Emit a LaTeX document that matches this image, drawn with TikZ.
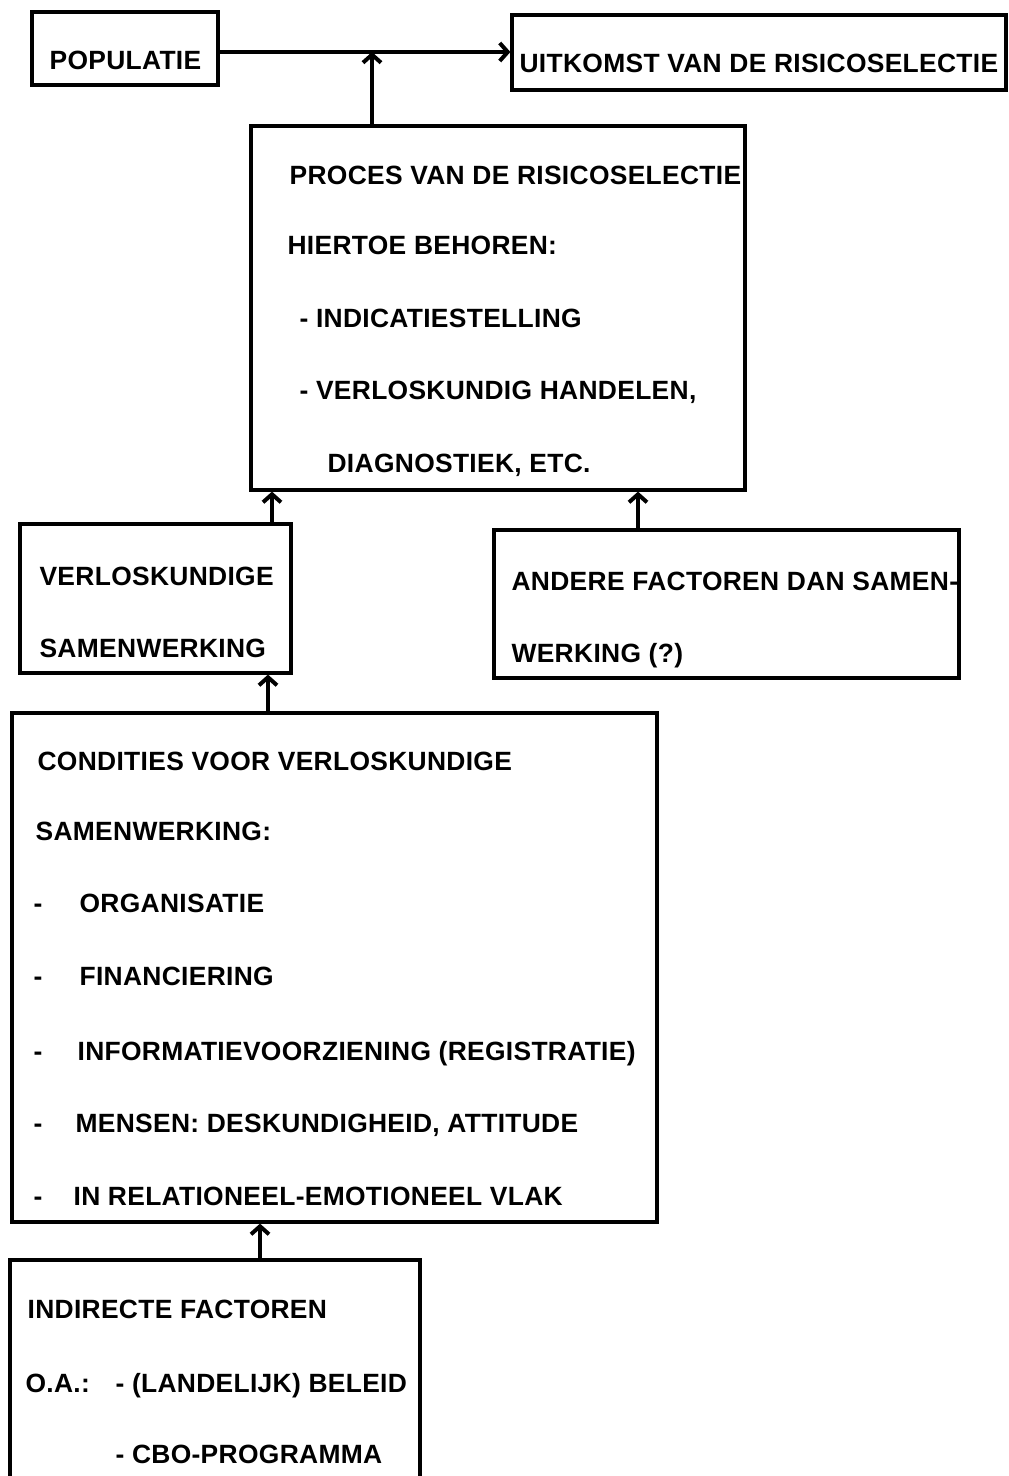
\documentclass[tikz,border=0pt]{standalone}
\usepackage{fontspec}
\setmainfont[LetterSpace=1.2]{Liberation Sans}
\usetikzlibrary{fit,arrows.meta}
\tikzset{
  box/.style={draw, line width=1.6pt, inner sep=0pt},
  lbl/.style={anchor=base west, inner sep=0pt, font=\bfseries\fontsize{13.2}{16}\selectfont},
}
\begin{document}
\begin{tikzpicture}[x=0.5pt, y=-0.5pt, line width=1.6pt,
    >={Straight Barb[length=4pt,width=9pt,line width=2pt]}]
  \useasboundingbox (0,0) rectangle (1008,1476);

  % boxes
  \node[box, fit={(32,12) (218,85)}] (pop) {};
  \node[box, fit={(512,15) (1006,90)}] (uit) {};
  \node[box, fit={(251,126) (745,490)}] (proc) {};
  \node[box, fit={(20,524) (291,673)}] (verl) {};
  \node[box, fit={(494,530) (959,678)}] (andere) {};
  \node[box, fit={(12,713) (657,1222)}] (cond) {};
  \node[box, fit={(10,1260) (420,1520)}] (indir) {};

  % texts
  \node[lbl] (t1) at (48,70) {POPULATIE};
  \node[lbl] (t2) at (518,73) {UITKOMST VAN DE RISICOSELECTIE};

  \node[lbl] (p1) at (288,185) {PROCES VAN DE RISICOSELECTIE};
  \node[lbl] (p2) at (286,255) {HIERTOE BEHOREN:};
  \node[lbl] (p3) at (298,328) {- INDICATIESTELLING};
  \node[lbl] (p4) at (298,400) {- VERLOSKUNDIG HANDELEN,};
  \node[lbl] (p5) at (326,472) {DIAGNOSTIEK, ETC.};

  \node[lbl] (v1) at (38,585) {VERLOSKUNDIGE};
  \node[lbl] (v2) at (38,657) {SAMENWERKING};

  \node[lbl] (a1) at (510,590) {ANDERE FACTOREN DAN SAMEN-};
  \node[lbl] (a2) at (510,662) {WERKING (?)};

  \node[lbl] (c1) at (36,770) {CONDITIES VOOR VERLOSKUNDIGE};
  \node[lbl] (c2) at (34,840) {SAMENWERKING:};
  \node[lbl] (d1) at (32,912) {-};
  \node[lbl] (c3) at (78,912) {ORGANISATIE};
  \node[lbl] (d2) at (32,985) {-};
  \node[lbl] (c4) at (78,985) {FINANCIERING};
  \node[lbl] (d3) at (32,1060) {-};
  \node[lbl] (c5) at (76,1060) {INFORMATIEVOORZIENING (REGISTRATIE)};
  \node[lbl] (d4) at (32,1132) {-};
  \node[lbl] (c6) at (74,1132) {MENSEN: DESKUNDIGHEID, ATTITUDE};
  \node[lbl] (d5) at (32,1205) {-};
  \node[lbl] (c7) at (72,1205) {IN RELATIONEEL-EMOTIONEEL VLAK};

  \node[lbl] (i1) at (26,1318) {INDIRECTE FACTOREN};
  \node[lbl] (i2) at (24,1392) {O.A.:};
  \node[lbl] (i3) at (114,1392) {- (LANDELIJK) BELEID};
  \node[lbl] (i4) at (114,1463) {- CBO-PROGRAMMA};

  % arrows
  \coordinate (join) at (372,52);
  \coordinate (xv) at (272,0);
  \coordinate (xa) at (638,0);
  \coordinate (xc) at (268,0);
  \coordinate (xi) at (260,0);

  \draw[->, line width=2pt] (pop.east |- join) to (uit.west |- join);
  \draw[->] (proc.north -| join) to (join);
  \draw[->] (verl.north -| xv) to (proc.south -| xv);
  \draw[->] (andere.north -| xa) to (proc.south -| xa);
  \draw[->] (cond.north -| xc) to (verl.south -| xc);
  \draw[->] (indir.north -| xi) to (cond.south -| xi);
\end{tikzpicture}
\end{document}
